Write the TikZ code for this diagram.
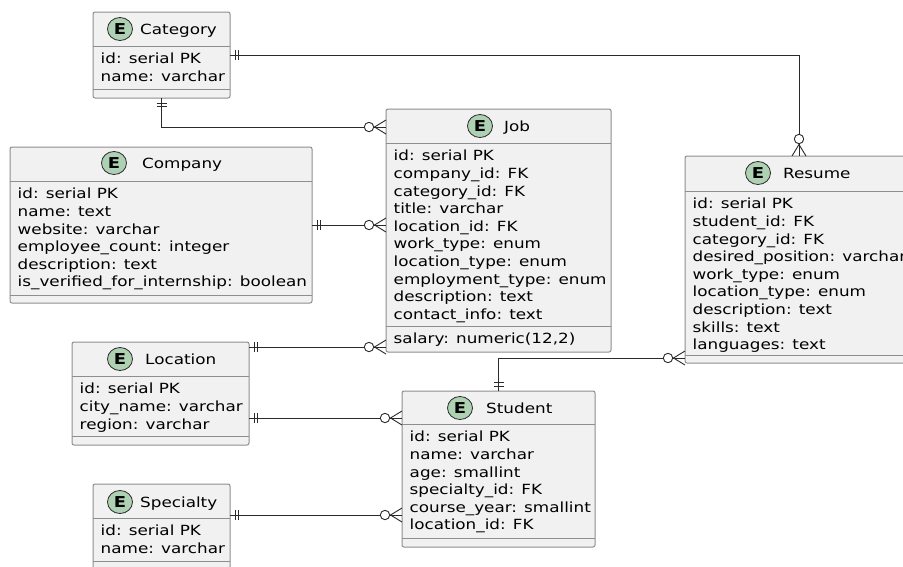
\documentclass[tikz,border=0pt]{standalone}
\usepackage{fontspec}
\newfontfamily\erfont{DejaVu Sans}[FakeStretch=1.2]
\usetikzlibrary{positioning,calc,shapes.geometric}

\definecolor{entfill}{HTML}{F1F1F1}
\definecolor{entline}{HTML}{8E8E8E}
\definecolor{relline}{HTML}{2A2A2A}
\definecolor{ecircfill}{HTML}{ADD1B2}

\pgfdeclarearrow{
  name = erone,
  setup code = {
    \pgfarrowssettipend{0pt}
    \pgfarrowssetlineend{0pt}
    \pgfarrowssetbackend{-10pt}
    \pgfarrowssetvisualbackend{-10pt}
    \pgfarrowshullpoint{0pt}{5pt}
    \pgfarrowshullpoint{0pt}{-5pt}
    \pgfarrowshullpoint{-10pt}{5pt}
    \pgfarrowshullpoint{-10pt}{-5pt}
  },
  drawing code = {
    \pgfsetlinewidth{0.9pt}
    \pgfpathmoveto{\pgfqpoint{-5pt}{5pt}}
    \pgfpathlineto{\pgfqpoint{-5pt}{-5pt}}
    \pgfpathmoveto{\pgfqpoint{-8.5pt}{5pt}}
    \pgfpathlineto{\pgfqpoint{-8.5pt}{-5pt}}
    \pgfusepathqstroke
  }
}

\pgfdeclarearrow{
  name = ermany,
  setup code = {
    \pgfarrowssettipend{0pt}
    \pgfarrowssetlineend{0pt}
    \pgfarrowssetbackend{-22pt}
    \pgfarrowssetvisualbackend{-22pt}
    \pgfarrowshullpoint{0pt}{7pt}
    \pgfarrowshullpoint{0pt}{-7pt}
    \pgfarrowshullpoint{-22pt}{5pt}
    \pgfarrowshullpoint{-22pt}{-5pt}
  },
  drawing code = {
    \pgfsetlinewidth{0.9pt}
    \pgfsetroundjoin
    \pgfpathmoveto{\pgfqpoint{0pt}{7pt}}
    \pgfpathlineto{\pgfqpoint{-11.5pt}{0pt}}
    \pgfpathlineto{\pgfqpoint{0pt}{-7pt}}
    \pgfusepathqstroke
    \pgfpathcircle{\pgfqpoint{-17pt}{0pt}}{4.7pt}
    \pgfsetfillcolor{white}
    \pgfusepathqfillstroke
  }
}

\tikzset{
  entity/.style={draw=entline, fill=entfill, line width=1pt, rounded corners=2pt, anchor=north west, inner sep=0pt, outer sep=0pt},
  entsep/.style={draw=entline, line width=1pt},
  ecirc/.style={ellipse, draw=relline, fill=ecircfill, line width=0.8pt, minimum width=25pt, minimum height=23pt, inner sep=0pt, font=\erfont\fontsize{15pt}{15pt}\selectfont\bfseries},
  etitle/.style={anchor=base west, inner sep=0pt},
  fields/.style={anchor=north west, align=left, inner sep=0pt},
  rel/.style={draw=relline, line width=0.9pt, arrows={erone-ermany}}
}

\begin{document}
\begin{tikzpicture}[x=1pt, y=-1pt, font=\erfont\fontsize{14pt}{17.6pt}\selectfont]
  \useasboundingbox (0,0) rectangle (903,566);
  \fill[white] (0,0) rectangle (903,566);
  \clip (0,0) rectangle (903,566);

  \node[entity, minimum width=137pt, minimum height=86pt] (cat) at (93,12) {};
  \draw[entsep] ($(cat.north west)+(0,34)$) -- ($(cat.north east)+(0,34)$);
  \draw[entsep] ($(cat.north west)+(0,77)$) -- ($(cat.north east)+(0,77)$);
  \node[ecirc] (cat-e) at (120,29) {E};
  \node[etitle] (cat-t) at (140,34) {Category};
  \node[fields] (cat-f) at (100.5,53) {id: serial PK\\name: varchar};

  \node[entity, minimum width=302pt, minimum height=156pt] (comp) at (10,147) {};
  \draw[entsep] ($(comp.north west)+(0,34)$) -- ($(comp.north east)+(0,34)$);
  \draw[entsep] ($(comp.north west)+(0,148)$) -- ($(comp.north east)+(0,148)$);
  \node[ecirc] (comp-e) at (114,163) {E};
  \node[etitle] (comp-t) at (142,168) {Company};
  \node[fields] (comp-f) at (17.5,188) {id: serial PK\\name: text\\website: varchar\\employee\_count: integer\\description: text\\is\_verified\_for\_internship: boolean};

  \node[entity, minimum width=225pt, minimum height=243pt] (job) at (386,109) {};
  \draw[entsep] ($(job.north west)+(0,34)$) -- ($(job.north east)+(0,34)$);
  \draw[entsep] ($(job.north west)+(0,217)$) -- ($(job.north east)+(0,217)$);
  \node[ecirc] (job-e) at (480,126) {E};
  \node[etitle] (job-t) at (504,131) {Job};
  \node[fields] (job-f) at (393.5,150) {id: serial PK\\company\_id: FK\\category\_id: FK\\title: varchar\\location\_id: FK\\work\_type: enum\\location\_type: enum\\employment\_type: enum\\description: text\\contact\_info: text};
  \node[fields] (job-m) at (393.5,333) {salary: numeric(12,2)};

  \node[entity, minimum width=228pt, minimum height=207pt] (res) at (685,156) {};
  \draw[entsep] ($(res.north west)+(0,35)$) -- ($(res.north east)+(0,35)$);
  \draw[entsep] ($(res.north west)+(0,199)$) -- ($(res.north east)+(0,199)$);
  \node[ecirc] (res-e) at (758,173) {E};
  \node[etitle] (res-t) at (783,178) {Resume};
  \node[fields] (res-f) at (692.5,198) {id: serial PK\\student\_id: FK\\category\_id: FK\\desired\_position: varchar\\work\_type: enum\\location\_type: enum\\description: text\\skills: text\\languages: text};

  \node[entity, minimum width=177pt, minimum height=103pt] (loc) at (72,342) {};
  \draw[entsep] ($(loc.north west)+(0,34)$) -- ($(loc.north east)+(0,34)$);
  \draw[entsep] ($(loc.north west)+(0,94)$) -- ($(loc.north east)+(0,94)$);
  \node[ecirc] (loc-e) at (120,359) {E};
  \node[etitle] (loc-t) at (145,364) {Location};
  \node[fields] (loc-f) at (79.5,383) {id: serial PK\\city\_name: varchar\\region: varchar};

  \node[entity, minimum width=193pt, minimum height=156pt] (stu) at (402,391) {};
  \draw[entsep] ($(stu.north west)+(0,33)$) -- ($(stu.north east)+(0,33)$);
  \draw[entsep] ($(stu.north west)+(0,147)$) -- ($(stu.north east)+(0,147)$);
  \node[ecirc] (stu-e) at (460,408) {E};
  \node[etitle] (stu-t) at (486,413) {Student};
  \node[fields] (stu-f) at (409.5,431) {id: serial PK\\name: varchar\\age: smallint\\specialty\_id: FK\\course\_year: smallint\\location\_id: FK};

  \node[entity, minimum width=137pt, minimum height=85pt] (spec) at (93,484) {};
  \draw[entsep] ($(spec.north west)+(0,34)$) -- ($(spec.north east)+(0,34)$);
  \draw[entsep] ($(spec.north west)+(0,77)$) -- ($(spec.north east)+(0,77)$);
  \node[ecirc] (spec-e) at (120,502) {E};
  \node[etitle] (spec-t) at (140,507) {Specialty};
  \node[fields] (spec-f) at (100.5,525) {id: serial PK\\name: varchar};

  \coordinate (loc-out) at ($(loc.north east)+(0,5)$);
  \coordinate (stu-in1) at ($(stu.north west)+(0,27)$);
  \coordinate (stu-in2) at ($(stu.north west)+(0,124)$);

  \draw[rel] (cat.east) -| (res.north);
  \draw[rel] (cat.south) |- ($(job.north west)+(0,18)$);
  \draw[rel] (comp.east) -- (comp.east -| job.west);
  \draw[rel] (loc-out) -- (loc-out -| job.west);
  \draw[rel] (loc.east |- stu-in1) -- (stu-in1);
  \draw[rel] (spec.east |- stu-in2) -- (stu-in2);
  \draw[rel] (stu.north) |- ($(res.south west)+(0,-5)$);
\end{tikzpicture}
\end{document}
